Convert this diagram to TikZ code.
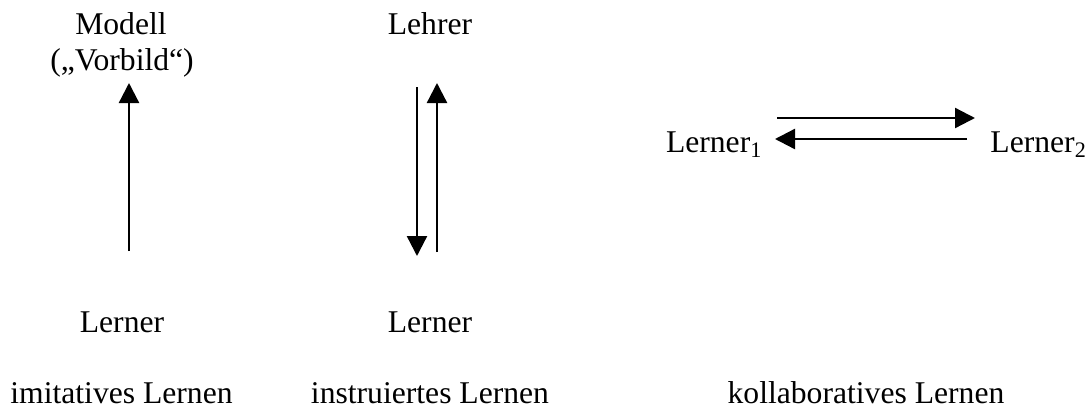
\documentclass[tikz,border=0pt]{standalone}
\usepackage{fontspec}
\setmainfont{Liberation Serif}
\usetikzlibrary{arrows.meta,calc}

\begin{document}
\begin{tikzpicture}[x=0.015cm, y=-0.015cm,
        txt/.style={inner sep=0pt, font=\fontsize{13.5}{16}\selectfont},
        pfeil/.style={line width=1pt, -{Triangle[length=0.3cm, width=0.3cm]}}]
        \useasboundingbox (0,0) rectangle (1092,409);

        % imitatives Lernen
        \node[txt, anchor=base] (modell) at (121, 34) {Modell};
        \node[txt, anchor=base] (vorbild) at (122, 70) {(„Vorbild“)};
        \node[txt, anchor=base] (lernerA) at (122, 332) {Lerner};
        \node[txt, anchor=base] (imitativ) at (121.5, 403) {imitatives Lernen};

        % instruiertes Lernen
        \node[txt, anchor=base] (lehrer) at (430, 34) {Lehrer};
        \node[txt, anchor=base] (lernerB) at (430, 332) {Lerner};
        \node[txt, anchor=base] (instruiert) at (430, 403) {instruiertes Lernen};

        % kollaboratives Lernen
        \node[txt, anchor=base east] (lernerL) at (763, 152) {Lerner\textsubscript{1}};
        \node[txt, anchor=base west] (lernerR) at (990, 152) {Lerner\textsubscript{2}};
        \node[txt, anchor=base] (kollab) at (866, 403) {kollaboratives Lernen};

        \draw[pfeil] ($(lernerA.base)+(7,-81)$) -- ($(vorbild.base)+(7,13)$);
        \draw[pfeil] ($(lehrer.base)+(-13,53)$) -- ($(lernerB.base)+(-13,-76)$);
        \draw[pfeil] ($(lernerB.base)+(7,-80)$) -- ($(lehrer.base)+(7,49)$);
        \draw[pfeil] ($(lernerL.base east)+(14,-34)$) -- ($(lernerR.base west)+(-15,-34)$);
        \draw[pfeil] ($(lernerR.base west)+(-23,-13)$) -- ($(lernerL.base east)+(12,-13)$);

    \end{tikzpicture}
\end{document}
